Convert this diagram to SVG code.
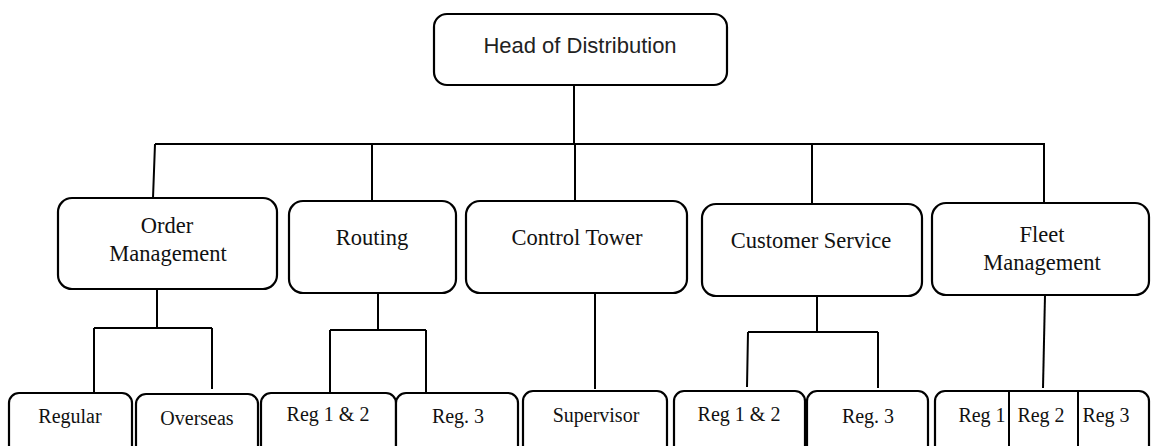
<svg xmlns="http://www.w3.org/2000/svg" width="1151" height="446" viewBox="0 0 1151 446">
<style>
.box{fill:#fff;stroke:#000;stroke-width:2.2}
.ln{fill:none;stroke:#000;stroke-width:2}
.t1{font-family:"Liberation Sans",Arial,sans-serif;font-size:22px;fill:#222;text-anchor:middle}
.t2{font-family:"Liberation Serif","Times New Roman",serif;font-size:22.5px;fill:#111;text-anchor:middle}
.t3{font-family:"Liberation Serif","Times New Roman",serif;font-size:20px;fill:#111;text-anchor:middle}
</style>
<rect width="1151" height="446" fill="#fff"/>
<g id="connectors">
<path class="ln" d="M574 85V144M155 144H1045M155 144L153 198M372 144V201M575 144V201M812 144V204M1044 144V203"/>
<path class="ln" d="M157 289V328M94 328H212M94 328V392M212 328V389"/>
<path class="ln" d="M378 293V330M330 330H426M330 330V392M426 330V392"/>
<path class="ln" d="M595 291V389"/>
<path class="ln" d="M817 296V332M748 332H878M748 332L747 387M878 332V388"/>
<path class="ln" d="M1045 295L1043 388"/>
</g>
<g id="head"><rect class="box" x="434" y="14" width="293" height="71" rx="13"/><text class="t1" x="580" y="53">Head of Distribution</text></g>
<g id="order"><rect class="box" x="58" y="198" width="219" height="91" rx="14"/><text class="t2" x="167" y="233">Order</text><text class="t2" x="168" y="261">Management</text></g>
<g id="routing"><rect class="box" x="289" y="201" width="167" height="92" rx="14"/><text class="t2" x="372" y="245">Routing</text></g>
<g id="control"><rect class="box" x="466" y="201" width="221" height="92" rx="14"/><text class="t2" x="577" y="245">Control Tower</text></g>
<g id="customer"><rect class="box" x="702" y="204" width="220" height="92" rx="14"/><text class="t2" x="811" y="248">Customer Service</text></g>
<g id="fleet"><rect class="box" x="932" y="203" width="217" height="92" rx="14"/><text class="t2" x="1042" y="242">Fleet</text><text class="t2" x="1042" y="270">Management</text></g>
<g id="regular"><rect class="box" x="9" y="393" width="123" height="70" rx="10"/><text class="t3" x="70" y="423">Regular</text></g>
<g id="overseas"><rect class="box" x="136" y="394" width="122" height="70" rx="10"/><text class="t3" x="197" y="425">Overseas</text></g>
<g id="routing-reg12"><rect class="box" x="261" y="393" width="135" height="70" rx="10"/><text class="t3" x="328" y="421">Reg 1 &amp; 2</text></g>
<g id="routing-reg3"><rect class="box" x="396" y="393" width="122" height="70" rx="10"/><text class="t3" x="458" y="423">Reg. 3</text></g>
<g id="supervisor"><rect class="box" x="523" y="391" width="144" height="70" rx="10"/><text class="t3" x="596" y="422">Supervisor</text></g>
<g id="cs-reg12"><rect class="box" x="674" y="391" width="131" height="70" rx="10"/><text class="t3" x="739" y="421">Reg 1 &amp; 2</text></g>
<g id="cs-reg3"><rect class="box" x="807" y="391" width="121" height="70" rx="10"/><text class="t3" x="868" y="423">Reg. 3</text></g>
<g id="fleet-regs"><rect class="box" x="935" y="391" width="214" height="70" rx="10"/><path class="ln" d="M1009 391V446M1078 391V446"/><text class="t3" x="982" y="422">Reg 1</text><text class="t3" x="1041" y="422">Reg 2</text><text class="t3" x="1106" y="422">Reg 3</text></g>
</svg>
